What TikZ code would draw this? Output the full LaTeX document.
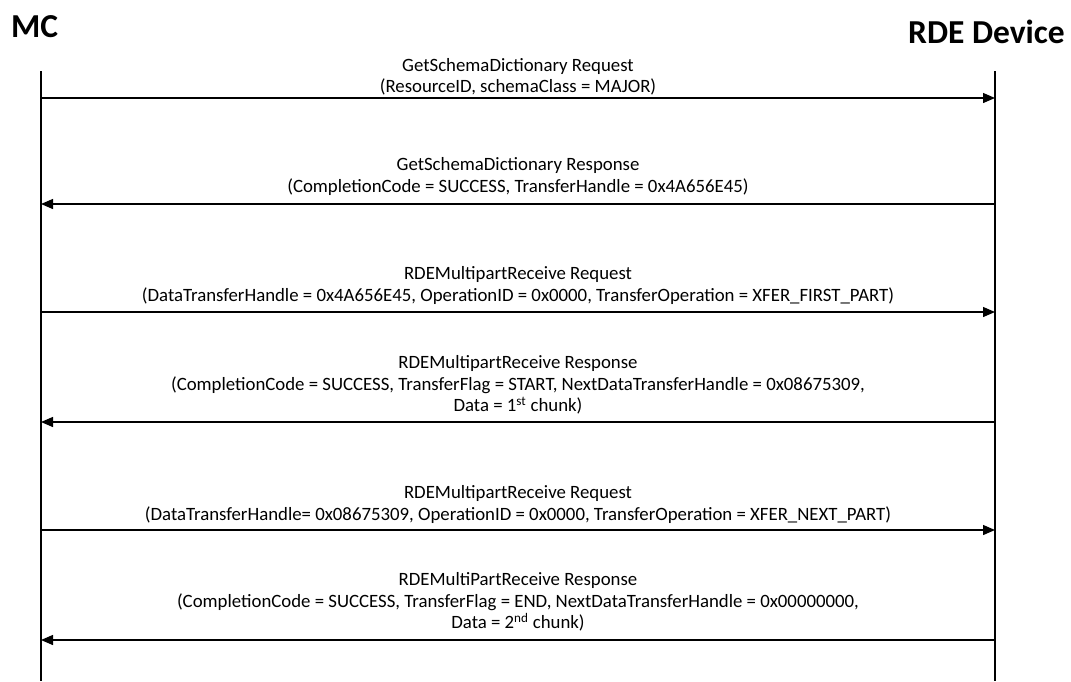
\documentclass[tikz,border=0pt]{standalone}
\usepackage{fontspec}
\setmainfont{Carlito}
\usetikzlibrary{arrows.meta}
\begin{document}
\begin{tikzpicture}[x=1pt,y=-1pt,
  actor/.style={font=\fontsize{33.5}{36}\selectfont\bfseries, inner sep=0pt},
  lifeline/.style={line width=1.3pt, black},
  msgarrow/.style={line width=1.3pt, -{Triangle[length=12pt,width=10pt]}},
  msgtext/.style={font=\fontsize{18.8}{21.5}\selectfont, align=center, anchor=south, inner sep=0pt}
]
\useasboundingbox (0,0) rectangle (1071,681);
\node[actor, anchor=west] (mc) at (11,27) {MC};
\node[actor, anchor=east] (rde) at (1065,32) {RDE Device};
\coordinate (mctop) at (41,71);
\coordinate (mcbot) at (41,681);
\coordinate (rdetop) at (995,71);
\coordinate (rdebot) at (995,681);
\draw[lifeline] (mctop) -- (mcbot);
\draw[lifeline] (rdetop) -- (rdebot);
% message 1
\coordinate (l1) at (41,98); \coordinate (r1) at (995,98);
\draw[msgarrow] (l1) -- (r1);
\node[msgtext] (t1) at (518,95.5) {GetSchemaDictionary Request\\(ResourceID, schemaClass = MAJOR)};
% message 2
\coordinate (l2) at (41,204); \coordinate (r2) at (995,204);
\draw[msgarrow] (r2) -- (l2);
\node[msgtext] (t2) at (518,195.5) {GetSchemaDictionary Response\\(CompletionCode = SUCCESS, TransferHandle = 0x4A656E45)};
% message 3
\coordinate (l3) at (41,312); \coordinate (r3) at (995,312);
\draw[msgarrow] (l3) -- (r3);
\node[msgtext] (t3) at (518,304.5) {RDEMultipartReceive Request\\(DataTransferHandle = 0x4A656E45, OperationID = 0x0000, TransferOperation = XFER\_FIRST\_PART)};
% message 4
\coordinate (l4) at (41,422); \coordinate (r4) at (995,422);
\draw[msgarrow] (r4) -- (l4);
\node[msgtext] (t4) at (518,414.5) {RDEMultipartReceive Response\\(CompletionCode = SUCCESS, TransferFlag = START, NextDataTransferHandle = 0x08675309,\\Data = 1\textsuperscript{st} chunk)};
% message 5
\coordinate (l5) at (41,530); \coordinate (r5) at (995,530);
\draw[msgarrow] (l5) -- (r5);
\node[msgtext] (t5) at (518,523.5) {RDEMultipartReceive Request\\(DataTransferHandle= 0x08675309, OperationID = 0x0000, TransferOperation = XFER\_NEXT\_PART)};
% message 6
\coordinate (l6) at (41,640); \coordinate (r6) at (995,640);
\draw[msgarrow] (r6) -- (l6);
\node[msgtext] (t6) at (518,631.5) {RDEMultiPartReceive Response\\(CompletionCode = SUCCESS, TransferFlag = END, NextDataTransferHandle = 0x00000000,\\Data = 2\textsuperscript{nd} chunk)};
\end{tikzpicture}
\end{document}
